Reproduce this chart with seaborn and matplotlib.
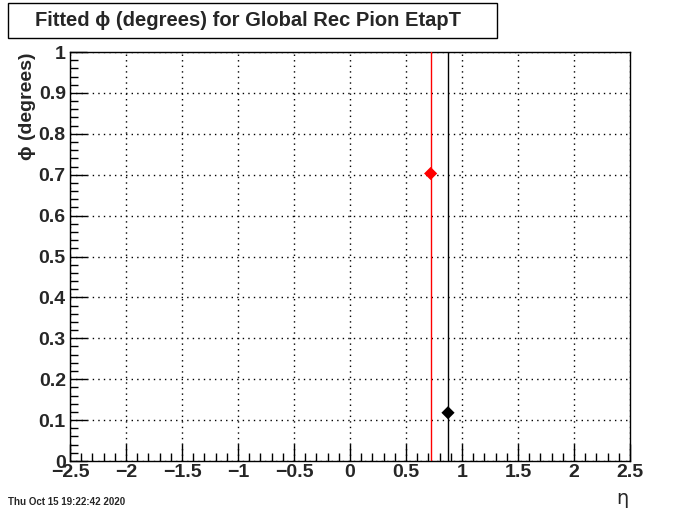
import numpy as np
import matplotlib
matplotlib.use("Agg")
import matplotlib.pyplot as plt
import seaborn as sns
import pandas as pd
from matplotlib.ticker import MultipleLocator
from matplotlib.patches import Rectangle

# data
eta = [0.72, 0.875]
phi = [0.703, 0.118]
phi_err = [3.0, 3.0]
series = ["red", "black"]

sns.set_style("white")
plt.rcParams['font.family'] = ['Liberation Sans', 'DejaVu Sans']
plt.rcParams['font.weight'] = 'bold'

df = pd.DataFrame({"eta": eta, "phi": phi, "err": phi_err, "s": series})

fig = plt.figure(figsize=(7, 5.12), dpi=100)
ax = fig.add_axes([0.1, 0.0996, 0.8, 0.7988])

# error bars (huge, run off the frame)
for _, r in df.iterrows():
    ax.errorbar(r["eta"], r["phi"], yerr=r["err"], color=r["s"], lw=1,
                capsize=0, fmt="none", zorder=3)

sns.scatterplot(data=df, x="eta", y="phi", hue="s",
                palette={"red": "red", "black": "black"},
                marker="D", s=45, edgecolor=None, linewidth=0,
                legend=False, ax=ax, zorder=4)

ax.set_xlim(-2.5, 2.5)
ax.set_ylim(0, 1)
ax.xaxis.set_major_locator(MultipleLocator(0.5))
ax.xaxis.set_minor_locator(MultipleLocator(0.1))
ax.yaxis.set_major_locator(MultipleLocator(0.1))
ax.yaxis.set_minor_locator(MultipleLocator(0.02))

def fmt(v, p):
    s = ("%g" % round(v, 2))
    return s.replace("-", "\u2212")

ax.xaxis.set_major_formatter(plt.FuncFormatter(fmt))
ax.yaxis.set_major_formatter(plt.FuncFormatter(fmt))

ax.tick_params(which="both", direction="in", bottom=True, left=True,
               top=False, right=False, labelsize=14, color="black", width=1)
ax.tick_params(which="major", length=12)
ax.tick_params(which="minor", length=6)
ax.tick_params(axis="x", pad=2.5)
ax.tick_params(axis="y", pad=3)
for lab in ax.get_xticklabels() + ax.get_yticklabels():
    lab.set_fontweight("bold")

ax.grid(True, which="major", linestyle=(0, (1, 3)), color="black", lw=1)
for sp in ax.spines.values():
    sp.set_color("black")
    sp.set_linewidth(1)

ax.set_xlabel("")
ax.set_ylabel("")
fig.text(0.889, 0.008, "\u03b7", fontsize=14, fontweight="normal",
         family=["DejaVu Sans"], ha="center", va="bottom")
fig.text(0.04, 0.898, "\u03d5 (degrees)", fontsize=14, fontweight="bold",
         rotation=90, ha="center", va="top")

# title box
fig.patches.append(Rectangle((8 / 700, 1 - 38 / 512), 489 / 700, 35 / 512,
                             transform=fig.transFigure, fill=True,
                             facecolor="white", edgecolor="black", lw=1))
fig.text(248 / 700, 1 - 21 / 512, "Fitted \u03d5 (degrees) for Global Rec Pion EtapT",
         fontsize=14.5, fontweight="bold", ha="center", va="center")

fig.text(8 / 700, 1 - 502 / 512, "Thu Oct 15 19:22:42 2020", fontsize=7,
         fontweight="bold", ha="left", va="center")

fig.savefig("out.png", dpi=100)
